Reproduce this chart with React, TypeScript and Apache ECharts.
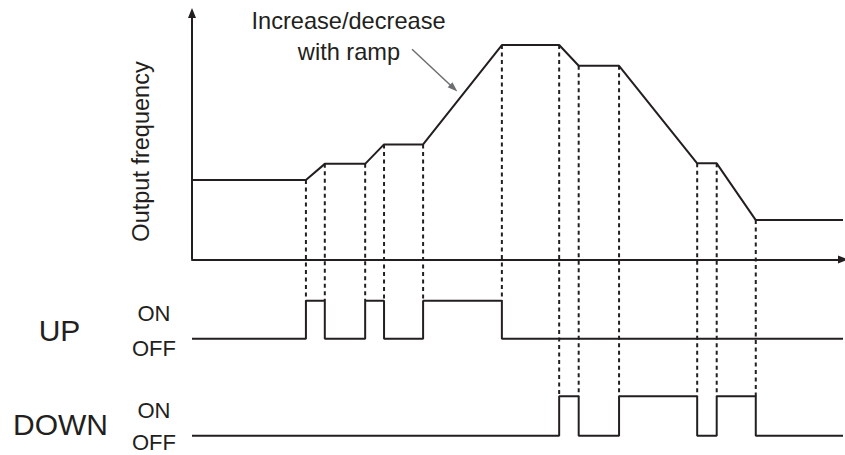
import React, { useEffect, useRef } from "react";
import * as echarts from "echarts";

// Time breakpoints (arbitrary time units, 0..100)
const times = [0, 17.5, 20.4, 26.6, 29.5, 35.5, 47.6, 56.4, 59.4, 65.6, 77.6, 80.6, 86.6, 100];
// Output frequency at each breakpoint (% of axis height)
const frequency = [32.3, 32.3, 38.8, 38.8, 46.7, 46.7, 87, 87, 78.6, 78.6, 39, 39, 16, 16];
// UP / DOWN command state from each breakpoint onward (1 = ON, 0 = OFF)
const upState = [0, 1, 0, 1, 0, 1, 0, 0, 0, 0, 0, 0, 0, 0];
const downState = [0, 0, 0, 0, 0, 0, 0, 1, 0, 1, 0, 1, 0, 0];
// Labels
const yLabel = "Output frequency";
const annotationLines = ["Increase/decrease", "with ramp"];
const signalNames = ["UP", "DOWN"];
const stateLabels = ["ON", "OFF"];
// Annotation arrow (time, frequency)
const annotationArrow = [
  [33.8, 85.3],
  [40.2, 69.5],
];

// Layout: vertical placement of the signal traces (in the same y units)
const UP_ON = -16.7;
const UP_OFF = -32.1;
const DOWN_ON = -55.5;
const DOWN_OFF = -71.5;

const INK = "#231f20";
const FONT = "'Liberation Sans', Arial, Helvetica, sans-serif";

export default function App() {
  const ref = useRef<HTMLDivElement>(null);

  useEffect(() => {
    if (!ref.current) return;
    const chart = echarts.init(ref.current, undefined, { renderer: "svg" });

    const freqData = times.map((t, i) => [t, frequency[i]]);
    const upData = times.map((t, i) => [t, UP_OFF + upState[i] * (UP_ON - UP_OFF)]);
    const downData = times.map((t, i) => [t, DOWN_OFF + downState[i] * (DOWN_ON - DOWN_OFF)]);

    const dashed: any[] = [];
    for (let i = 1; i < times.length - 1; i++) {
      let bottom: number | null = null;
      if (upState[i] !== upState[i - 1]) bottom = UP_ON;
      else if (downState[i] !== downState[i - 1]) bottom = DOWN_ON;
      if (bottom === null) continue;
      dashed.push({
        type: "line",
        data: [
          [times[i], frequency[i]],
          [times[i], bottom],
        ],
        symbol: "none",
        silent: true,
        z: 1,
        lineStyle: { color: INK, width: 2, type: [4, 3.5] },
      });
    }

    const solid = { color: INK, width: 2 };

    const option: any = {
      animation: false,
      grid: { left: 192, right: 2, top: 13, bottom: 10.6 },
      xAxis: {
        type: "value",
        min: 0,
        max: 100,
        axisLine: {
          show: true,
          onZero: true,
          symbol: ["none", "triangle"],
          symbolSize: [8, 10],
          symbolOffset: [0, 0],
          lineStyle: solid,
        },
        axisTick: { show: false },
        axisLabel: { show: false },
        splitLine: { show: false },
      },
      yAxis: {
        type: "value",
        min: -75,
        max: 100,
        axisLine: { show: false },
        axisTick: { show: false },
        axisLabel: { show: false },
        splitLine: { show: false },
      },
      series: [
        {
          type: "line",
          name: "Output frequency",
          data: freqData,
          symbol: "none",
          z: 3,
          lineStyle: solid,
          markLine: {
            silent: true,
            animation: false,
            label: { show: false },
            data: [
              [
                { coord: [0, 0], symbol: "none", lineStyle: { color: INK, width: 2, type: "solid" } },
                { coord: [0, 100], symbol: "triangle", symbolSize: [8, 10] },
              ],
              [
                {
                  coord: annotationArrow[0],
                  symbol: "none",
                  lineStyle: { color: "#6d6e71", width: 1.5, type: "solid" },
                },
                { coord: annotationArrow[1], symbol: "triangle", symbolSize: [7, 10] },
              ],
            ],
          },
        },
        {
          type: "line",
          name: "UP",
          data: upData,
          step: "end",
          symbol: "none",
          z: 3,
          lineStyle: solid,
        },
        {
          type: "line",
          name: "DOWN",
          data: downData,
          step: "end",
          symbol: "none",
          z: 3,
          lineStyle: solid,
        },
        ...dashed,
      ],
      graphic: [
        {
          type: "text",
          x: 140.5,
          y: 151.5,
          rotation: Math.PI / 2,
          style: {
            text: yLabel,
            fill: INK,
            font: `23.5px ${FONT}`,
            align: "center",
            verticalAlign: "middle",
            textAlign: "center",
            textVerticalAlign: "middle",
          },
        },
        {
          type: "text",
          x: 348.5,
          y: 20.5,
          style: {
            text: annotationLines[0],
            fill: INK,
            font: `23.6px ${FONT}`,
            align: "center",
            verticalAlign: "middle",
            textAlign: "center",
            textVerticalAlign: "middle",
          },
        },
        {
          type: "text",
          x: 349,
          y: 51.5,
          style: {
            text: annotationLines[1],
            fill: INK,
            font: `23.6px ${FONT}`,
            align: "center",
            verticalAlign: "middle",
            textAlign: "center",
            textVerticalAlign: "middle",
          },
        },
        ...[
          [signalNames[0], 59.5, 330.5, 30],
          [signalNames[1], 60.5, 424.5, 30],
          [stateLabels[0], 154, 313.5, 22],
          [stateLabels[1], 154, 348, 22],
          [stateLabels[0], 154, 410.5, 22],
          [stateLabels[1], 154, 442.5, 22],
        ].map(([text, x, y, size]) => ({
          type: "text",
          x,
          y,
          style: {
            text,
            fill: INK,
            font: `${size}px ${FONT}`,
            align: "center",
            verticalAlign: "middle",
            textAlign: "center",
            textVerticalAlign: "middle",
          },
        })),
      ],
    };

    chart.setOption(option);
    return () => chart.dispose();
  }, []);

  return (
    <div
      ref={ref}
      style={{ position: "fixed", left: 0, top: 0, width: 845, height: 455, background: "#fff" }}
    />
  );
}
